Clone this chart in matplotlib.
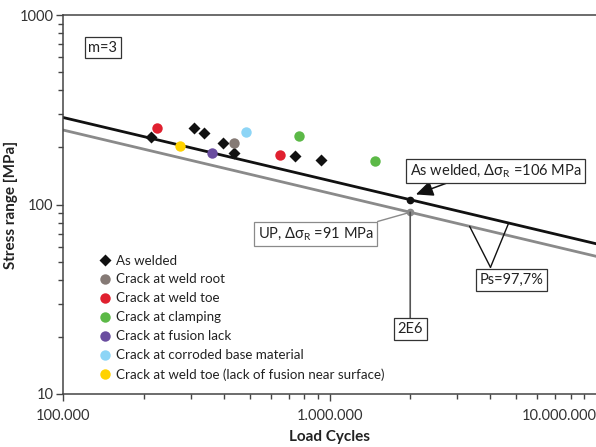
import numpy as np
import matplotlib.pyplot as plt
from matplotlib.ticker import FixedLocator, NullFormatter
import matplotlib.transforms as mtransforms

plt.rcParams['font.family'] = ['Lato', 'DejaVu Sans']
plt.rcParams['mathtext.fontset'] = 'custom'
plt.rcParams['mathtext.rm'] = 'Lato'
plt.rcParams['mathtext.it'] = 'Lato'

# test data
welded_n = [2.14e5, 3.09e5, 3.36e5, 3.96e5, 4.37e5, 7.39e5, 9.29e5]
welded_s = [228, 252, 239, 210, 188, 181, 172]

series = [
    ("Crack at weld root", "#857a75", [4.37e5], [210]),
    ("Crack at weld toe", "#e0202f", [2.25e5, 6.5e5], [253, 182]),
    ("Crack at clamping", "#5cb947", [7.68e5, 1.475e6], [230, 170]),
    ("Crack at fusion lack", "#6a4d9f", [3.6e5], [188]),
    ("Crack at corroded base material", "#8dd5f6", [4.83e5], [240]),
    ("Crack at weld toe (lack of fusion near surface)", "#ffd200", [2.73e5], [203]),
]

m = 3
n_ref = 2e6
fat_welded = 106
fat_up = 91
n_line = np.array([1e5, 1e7])


def sn(fat, n):
    return fat * (n_ref / n) ** (1.0 / m)


fig = plt.figure(figsize=(5.96, 4.47), dpi=100)
ax = fig.add_axes([0.1062, 0.1186, 0.8948, 0.8478])
ax.set_xscale('log')
ax.set_yscale('log')
ax.set_xlim(1e5, 1e7)
ax.set_ylim(10, 1000)

ax.plot(n_line, sn(fat_welded, n_line), color='#111111', lw=2, zorder=2)
ax.plot(n_line, sn(fat_up, n_line), color='#8a8a8a', lw=2, zorder=1)

ax.plot(welded_n, welded_s, 'D', color='#111111', ms=6, mec='none', label='As welded', zorder=4)
for name, col, xs, ys in series:
    ax.plot(xs, ys, 'o', color=col, ms=7.5, mec='none', label=name, zorder=4)

# reference points at 2E6
ax.plot([n_ref], [fat_welded], 'o', color='#111111', ms=4.5, zorder=5)
ax.plot([n_ref], [fat_up], 'o', color='#8a8a8a', ms=4.5, zorder=5)

box = dict(boxstyle='square,pad=0.25', fc='white', ec='#333333', lw=0.9)
box_g = dict(boxstyle='square,pad=0.25', fc='white', ec='#8a8a8a', lw=0.9)
fs = 10.5

ax.annotate("As welded, Δσ$_{\\mathrm{R}}$ =106 MPa", xy=(2.1e6, 113), xytext=(4.18e6, 151),
            ha='center', va='center', fontsize=fs, bbox=box, color='#222222',
            arrowprops=dict(arrowstyle='-|>,head_length=1.0,head_width=0.45', color='#111111',
                            lw=1.1, shrinkA=0, shrinkB=0, relpos=(0.28, 0.0)),
            zorder=6)

ax.annotate("UP, Δσ$_{\\mathrm{R}}$ =91 MPa", xy=(n_ref, fat_up), xytext=(8.84e5, 69.9),
            ha='center', va='center', fontsize=fs, bbox=box_g, color='#222222',
            arrowprops=dict(arrowstyle='-', color='#8a8a8a', lw=1.0, shrinkA=0, shrinkB=0,
                            relpos=(0.91, 1.0)),
            zorder=6)

ax.annotate("2E6", xy=(n_ref, fat_up), xytext=(n_ref, 22.0),
            ha='center', va='center', fontsize=fs, bbox=box, color='#222222',
            arrowprops=dict(arrowstyle='-', color='#555555', lw=1.2, shrinkA=0, shrinkB=0,
                            relpos=(0.5, 1.0)),
            zorder=6)

# Ps scatter band marker
apex = (4.0e6, 46.6)
n_a, n_b = 3.34e6, 4.68e6
for fat, n in ((fat_up, n_a), (fat_welded, n_b)):
    ax.annotate("", xy=(n, sn(fat, n)), xytext=apex,
                arrowprops=dict(arrowstyle='-', color='#111111', lw=1.0, shrinkA=0, shrinkB=0),
                zorder=6)
ax.text(4.79e6, 40.0, "Ps=97,7%", ha='center', va='center', fontsize=fs, bbox=box,
        color='#222222', zorder=7)

ax.text(0.047, 0.914, "m=3", transform=ax.transAxes, fontsize=fs, va='center', ha='left',
        bbox=box, color='#222222')

leg = ax.legend(loc='upper left', bbox_to_anchor=(0.068, 0.368), frameon=False,
                fontsize=9.6, handlelength=0.8, handletextpad=0.45, labelspacing=0.52,
                borderaxespad=0, borderpad=0, markerscale=1.0)
for t in leg.get_texts():
    t.set_color('#222222')

ax.xaxis.set_major_locator(FixedLocator([1e5, 1e6, 1e7]))
ax.set_xticklabels(["100.000", "1.000.000", "10.000.000"])
ax.xaxis.set_minor_locator(FixedLocator([k * 10 ** e for e in (5, 6) for k in range(2, 10)]))
ax.xaxis.set_minor_formatter(NullFormatter())
ax.yaxis.set_major_locator(FixedLocator([10, 100, 1000]))
ax.set_yticklabels(["10", "100", "1000"])
ax.yaxis.set_minor_locator(FixedLocator([k * 10 ** e for e in (1, 2) for k in range(2, 10)]))
ax.yaxis.set_minor_formatter(NullFormatter())

lbl = ax.get_xticklabels()[-1]
lbl.set_ha('right')
lbl.set_transform(lbl.get_transform() + mtransforms.ScaledTranslation(-5 / 72, 0, fig.dpi_scale_trans))

ax.tick_params(which='major', length=5, width=1, color='#444444', labelsize=10.5,
               labelcolor='#333333')
ax.tick_params(axis='x', which='major', pad=6)
ax.tick_params(axis='y', which='major', pad=2)
ax.tick_params(which='minor', length=3.5, width=1, color='#444444')
for s in ax.spines.values():
    s.set_color('#444444')
    s.set_linewidth(1.1)

ax.set_xlabel("Load Cycles", fontsize=11, fontweight='bold', color='#222222', labelpad=5)
ax.set_ylabel("Stress range [MPa]", fontsize=11, fontweight='bold', color='#222222', labelpad=1)

fig.savefig("out.png", dpi=100)
